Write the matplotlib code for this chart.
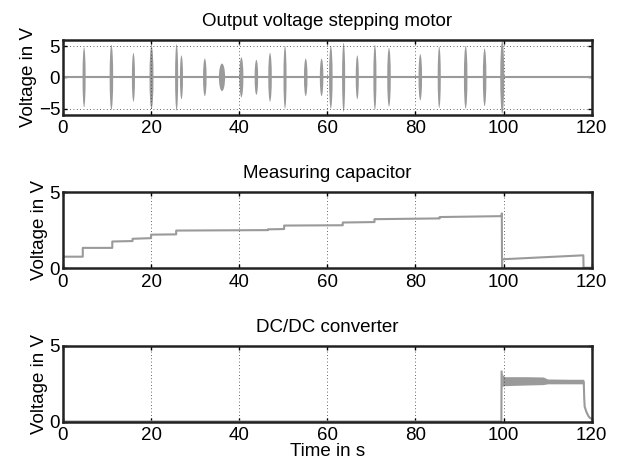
import numpy as np
import matplotlib
matplotlib.use('Agg')
import matplotlib.pyplot as plt
from matplotlib.patches import Ellipse

plt.rcParams['font.family'] = ['Liberation Sans', 'DejaVu Sans']

# motor bursts: centre time (s), half amplitude (V), width (s)
burst_t = [4.8, 11.0, 16.0, 20.1, 25.8, 26.9, 32.2, 36.1, 40.5, 43.9, 47.0, 50.4,
           55.1, 58.7, 60.8, 63.7, 66.8, 70.8, 74.0, 81.1, 85.4, 91.4, 95.7, 99.7]
burst_amp = [4.8, 5.2, 3.9, 5.1, 5.3, 3.5, 3.0, 2.2, 3.2, 2.8, 3.9, 5.0,
             3.0, 3.0, 5.0, 5.5, 3.5, 5.2, 4.7, 3.7, 4.9, 5.0, 4.6, 5.8]
burst_w = [0.7, 0.8, 0.7, 0.9, 0.7, 0.7, 0.8, 1.4, 0.9, 0.8, 0.8, 0.7,
           0.8, 0.8, 0.8, 0.7, 0.7, 0.7, 0.8, 0.8, 0.7, 0.8, 0.8, 0.9]
motor_t = [0, 120]
motor_v = [0, 0]

# measuring capacitor
cap_t = [0, 4.5, 4.5, 11.2, 11.2, 15.8, 15.8, 20.0, 20.0, 25.7, 25.7, 46.5, 46.5,
         50.2, 50.2, 63.5, 63.5, 70.7, 70.7, 85.5, 85.5, 99.6, 99.6, 99.65, 99.7,
         118.1, 118.15, 120]
cap_v = [0.75, 0.75, 1.33, 1.33, 1.75, 1.78, 1.93, 1.97, 2.2, 2.22, 2.47, 2.5, 2.55,
         2.57, 2.8, 2.82, 3.0, 3.03, 3.22, 3.27, 3.36, 3.42, 3.6, 0.05, 0.58,
         0.84, 0.02, 0.02]

# DC/DC converter
dc_t = [0, 99.5, 99.55]
dc_v = [0.02, 0.02, 3.3]
band_t = [99.6, 99.9, 100.3, 105, 109, 110, 115, 118.2]
band_hi = [3.25, 3.05, 2.97, 2.97, 2.95, 2.82, 2.8, 2.8]
band_lo = [2.3, 2.36, 2.38, 2.42, 2.45, 2.5, 2.5, 2.5]
tail_t = [118.2, 118.3, 118.4, 118.8, 119.2, 119.6, 120]
tail_v = [2.6, 1.6, 1.0, 0.65, 0.4, 0.25, 0.2]

grey = '#9a9a9a'
fs = 13.5

fig = plt.figure(figsize=(6.17, 4.63), dpi=100)
pos = [[0.102, 0.752, 0.857, 0.162],
       [0.102, 0.421, 0.857, 0.164],
       [0.102, 0.089, 0.857, 0.164]]
titles = ['Output voltage stepping motor', 'Measuring capacitor', 'DC/DC converter']
axs = [fig.add_axes(p) for p in pos]

for ax, ttl in zip(axs, titles):
    ax.set_title(ttl, fontsize=fs, pad=10)
    ax.set_xlim(0, 120)
    ax.set_xticks([0, 20, 40, 60, 80, 100, 120])
    ax.set_ylabel('Voltage in V', fontsize=fs, labelpad=1)
    ax.grid(True, linestyle=(0, (1, 3)), color='#333333', linewidth=0.6)
    ax.tick_params(direction='in', top=True, right=True, length=3, width=1,
                   labelsize=fs)
    ax.tick_params(axis='x', pad=4)
    ax.tick_params(axis='y', pad=2)
    for s in ax.spines.values():
        s.set_linewidth(1.8)
        s.set_color('#222222')

ax = axs[0]
ax.plot(motor_t, motor_v, color=grey, lw=1.5)
for t, a, w in zip(burst_t, burst_amp, burst_w):
    ax.add_patch(Ellipse((t, 0), w, 2 * a, color=grey, lw=0))
ax.set_ylim(-6, 6)
ax.set_yticks([-5, 0, 5])

ax = axs[1]
ax.plot(cap_t, cap_v, color=grey, lw=1.5)
ax.set_ylim(0, 5)
ax.set_yticks([0, 5])

ax = axs[2]
ax.plot(dc_t, dc_v, color=grey, lw=1.5)
ax.fill_between(band_t, band_lo, band_hi, color=grey, lw=0)
ax.plot(tail_t, tail_v, color=grey, lw=1.5)
ax.set_ylim(0, 5)
ax.set_yticks([0, 5])
ax.set_xlabel('Time in s', fontsize=fs, labelpad=-1)

fig.savefig('out.png', dpi=100)
